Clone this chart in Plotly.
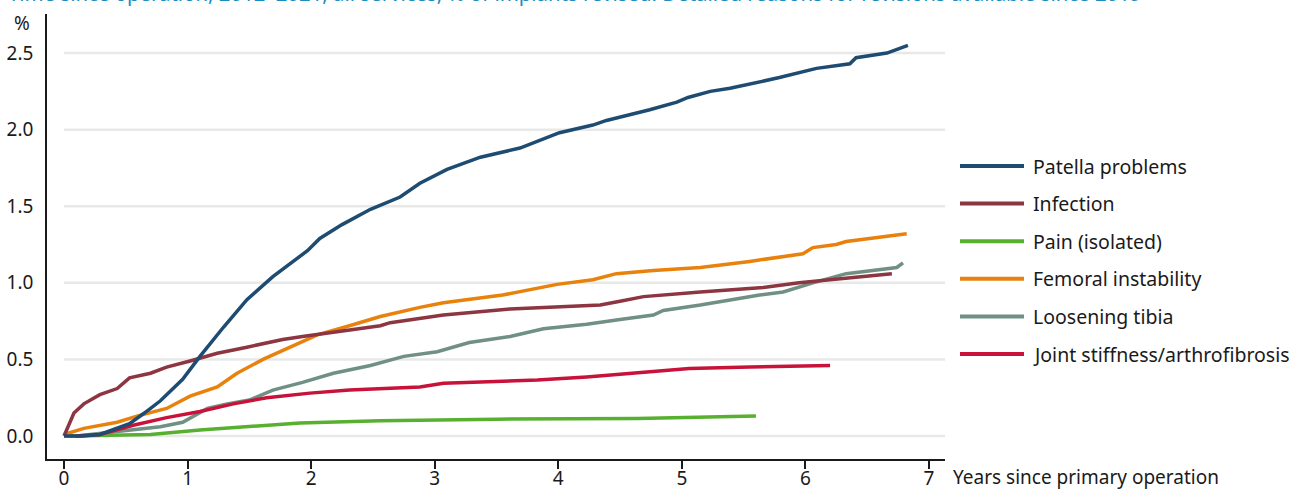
import plotly.graph_objects as go

# ---- data ----
patella_t = [0, 0.15, 0.29, 0.40, 0.53, 0.65, 0.78, 0.96, 1.10, 1.29, 1.48, 1.69, 1.97, 2.07, 2.25, 2.48, 2.72, 2.88, 3.10, 3.37, 3.69, 4.01, 4.28, 4.39, 4.74, 4.96, 5.05, 5.23, 5.39, 5.79, 6.09, 6.36, 6.41, 6.66, 6.83]
patella_v = [0, 0.0, 0.01, 0.04, 0.08, 0.15, 0.23, 0.37, 0.52, 0.71, 0.89, 1.04, 1.21, 1.29, 1.38, 1.48, 1.56, 1.65, 1.74, 1.82, 1.88, 1.98, 2.03, 2.06, 2.13, 2.18, 2.21, 2.25, 2.27, 2.34, 2.40, 2.43, 2.47, 2.50, 2.55]

infection_t = [0, 0.04, 0.08, 0.16, 0.29, 0.43, 0.53, 0.70, 0.83, 1.02, 1.24, 1.48, 1.77, 1.93, 2.31, 2.56, 2.64, 3.07, 3.61, 3.88, 4.34, 4.50, 4.69, 5.15, 5.66, 5.95, 6.36, 6.70]
infection_v = [0, 0.08, 0.15, 0.21, 0.27, 0.31, 0.38, 0.41, 0.45, 0.49, 0.54, 0.58, 0.63, 0.65, 0.69, 0.72, 0.74, 0.79, 0.83, 0.84, 0.855, 0.88, 0.91, 0.94, 0.97, 1.00, 1.03, 1.06]

pain_t = [0.05, 0.70, 1.10, 1.50, 1.91, 2.56, 3.50, 4.64, 5.60]
pain_v = [0, 0.01, 0.04, 0.065, 0.085, 0.10, 0.11, 0.115, 0.13]

femoral_t = [0, 0.16, 0.43, 0.59, 0.83, 1.02, 1.24, 1.40, 1.61, 1.83, 2.05, 2.31, 2.56, 2.88, 3.07, 3.55, 3.99, 4.28, 4.47, 4.77, 5.15, 5.55, 5.98, 6.06, 6.25, 6.33, 6.82]
femoral_v = [0.01, 0.05, 0.09, 0.13, 0.18, 0.26, 0.32, 0.41, 0.50, 0.58, 0.66, 0.72, 0.78, 0.84, 0.87, 0.92, 0.99, 1.02, 1.06, 1.08, 1.10, 1.14, 1.19, 1.23, 1.25, 1.27, 1.32]

loosening_t = [0, 0.10, 0.43, 0.78, 0.96, 1.16, 1.32, 1.50, 1.69, 1.93, 2.18, 2.48, 2.75, 3.02, 3.28, 3.61, 3.88, 4.23, 4.50, 4.77, 4.85, 5.15, 5.63, 5.82, 6.06, 6.33, 6.74, 6.79]
loosening_v = [0, 0.0, 0.03, 0.06, 0.09, 0.18, 0.21, 0.235, 0.30, 0.35, 0.41, 0.46, 0.52, 0.55, 0.61, 0.65, 0.70, 0.73, 0.76, 0.79, 0.82, 0.855, 0.92, 0.94, 1.00, 1.06, 1.10, 1.13]

stiffness_t = [0.10, 0.29, 0.56, 0.83, 1.10, 1.37, 1.64, 1.99, 2.31, 2.56, 2.88, 3.07, 3.83, 4.23, 4.64, 5.06, 5.55, 6.20]
stiffness_v = [0, 0.01, 0.07, 0.12, 0.16, 0.21, 0.25, 0.28, 0.30, 0.31, 0.32, 0.345, 0.365, 0.385, 0.41, 0.44, 0.45, 0.46]

series_names = ["Patella problems", "Infection", "Pain (isolated)", "Femoral instability",
                "Loosening tibia", "Joint stiffness/arthrofibrosis"]
series_t = [patella_t, infection_t, pain_t, femoral_t, loosening_t, stiffness_t]
series_v = [patella_v, infection_v, pain_v, femoral_v, loosening_v, stiffness_v]
colors = ["#1d4b72", "#8d3540", "#58b030", "#e8820c", "#6f9083", "#c8123a"]

y_ticks = [0.0, 0.5, 1.0, 1.5, 2.0, 2.5]
x_ticks = [0, 1, 2, 3, 4, 5, 6, 7]

FONT = "Noto Sans"
FS = 19
X_MIN, X_MAX = -0.138, 7.13
Y_MIN, Y_MAX = -0.15, 2.755

fig = go.Figure()

# gridlines starting at x=0
for yv in y_ticks:
    fig.add_shape(type="line", xref="x", yref="y", x0=0, x1=X_MAX, y0=yv, y1=yv,
                  line=dict(color="#e8e8e8", width=2.5), layer="below")

draw_order = [2, 4, 5, 3, 1, 0]
for i in draw_order:
    fig.add_trace(go.Scatter(x=series_t[i], y=series_v[i], mode="lines", name=series_names[i],
                             line=dict(color=colors[i], width=3.5), showlegend=False))

# manual legend
leg_top = 166
leg_step = 37.6
plot_l, plot_r, plot_t, plot_b = 47, 945, 14, 459
pw, ph = plot_r - plot_l, plot_b - plot_t
def px2x(px):
    return (px - plot_l) / pw
def py2y(py):
    return (plot_b - py) / ph

for k, (nm, col) in enumerate(zip(series_names, colors)):
    yy = py2y(leg_top + k * leg_step)
    fig.add_shape(type="line", xref="paper", yref="paper", x0=px2x(960), x1=px2x(1024),
                  y0=yy, y1=yy, line=dict(color=col, width=4))
    fig.add_annotation(xref="paper", yref="paper", x=px2x(1031), y=yy, text=nm,
                       showarrow=False, xanchor="left", yanchor="middle",
                       font=dict(family=FONT, size=19.5, color="#1a1a1a"))

# axis labels
fig.add_annotation(xref="paper", yref="paper", x=px2x(951), y=py2y(477),
                   text="Years since primary operation", showarrow=False,
                   xanchor="left", yanchor="middle",
                   font=dict(family=FONT, size=FS, color="#1a1a1a"))
fig.add_annotation(xref="paper", yref="paper", x=px2x(22), y=py2y(23), text="%",
                   showarrow=False, xanchor="center", yanchor="middle",
                   font=dict(family=FONT, size=FS, color="#1a1a1a"))
# title (partly cut off at top, as in the reference)
fig.add_annotation(xref="paper", yref="paper", x=px2x(6), y=py2y(9),
                   text="Time since operation, 2012–2021, all services, % of implants revised. Detailed reasons for revisions available since 2019",
                   showarrow=False, xanchor="left", yanchor="bottom",
                   font=dict(family=FONT, size=20.4, color="#1a8cbf"))

fig.update_layout(
    width=1301, height=491,
    margin=dict(l=plot_l, r=1301 - plot_r, t=plot_t, b=491 - plot_b, pad=0, autoexpand=False),
    paper_bgcolor="white", plot_bgcolor="white",
    font=dict(family=FONT, size=FS, color="#1a1a1a"),
    xaxis=dict(range=[X_MIN, X_MAX], tickvals=x_ticks, showgrid=False, zeroline=False,
               showline=True, linecolor="#1a1a1a", linewidth=1.5, automargin=False,
               ticks="outside", ticklen=8, tickwidth=2, tickcolor="#1a1a1a",
               ticklabelstandoff=-7, tickfont=dict(family=FONT, size=FS)),
    yaxis=dict(range=[Y_MIN, Y_MAX], tickvals=y_ticks, tickformat=".1f", showgrid=False,
               zeroline=False, showline=True, linecolor="#1a1a1a", linewidth=1.5,
               automargin=False, ticks="", ticklabelstandoff=8,
               tickfont=dict(family=FONT, size=FS)),
    showlegend=False,
)

fig.write_html("out.html", config={"displayModeBar": False},
               post_script="document.body.style.margin='0';document.body.style.overflow='hidden';")
